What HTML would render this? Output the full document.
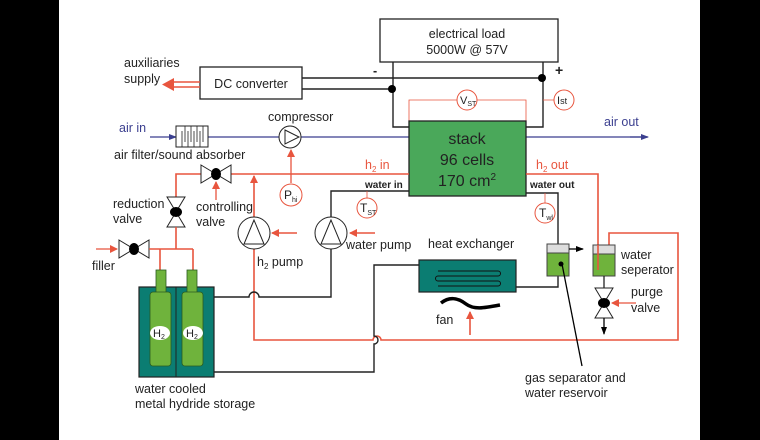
<!DOCTYPE html>
<html><head><meta charset="utf-8"><style>
html,body{margin:0;padding:0;background:#000;}
svg{display:block;}
text{font-family:"Liberation Sans",Arial,sans-serif;}
</style></head><body>
<svg width="760" height="440" viewBox="0 0 760 440" xmlns="http://www.w3.org/2000/svg">
<rect x="0" y="0" width="760" height="440" fill="#000"/>
<rect x="59" y="0" width="641" height="440" fill="#fff"/>
<defs>
<marker id="ar" markerWidth="8" markerHeight="8" refX="7" refY="4" orient="auto" markerUnits="userSpaceOnUse"><path d="M0,0 L8,4 L0,8 z" fill="#e8553e"/></marker>
<marker id="ab" markerWidth="8" markerHeight="8" refX="7" refY="4" orient="auto" markerUnits="userSpaceOnUse"><path d="M0,1 L8,4 L0,7 z" fill="#3b3f8f"/></marker>
<marker id="ak" markerWidth="8" markerHeight="8" refX="7" refY="4" orient="auto" markerUnits="userSpaceOnUse"><path d="M0,1 L8,4 L0,7 z" fill="#000"/></marker>
</defs>
<g font-size="12.5" fill="#222">
<!-- electrical load -->
<rect x="380" y="19" width="178" height="43" fill="#fff" stroke="#222" stroke-width="1.3"/>
<text x="467" y="38" text-anchor="middle">electrical load</text>
<text x="467" y="54" text-anchor="middle">5000W @ 57V</text>
<!-- DC converter -->
<rect x="200" y="67" width="102" height="32" fill="#fff" stroke="#222" stroke-width="1.3"/>
<text x="251" y="88" text-anchor="middle">DC converter</text>
<text x="124" y="67">auxiliaries</text>
<text x="124" y="83">supply</text>
<path d="M200,82 H172 M200,87 H172" stroke="#e8553e" stroke-width="1.6"/>
<path d="M174,78 L162,84.5 L174,91 z" fill="#e8553e"/>
<!-- electrical wiring -->
<path d="M302,78 H543 M302,89 H393 M393,62 V127 H409 M543,62 V127 H526" stroke="#222" stroke-width="1.4" fill="none"/>
<circle cx="542" cy="78" r="4" fill="#000"/><circle cx="392" cy="89" r="4" fill="#000"/>
<text x="373" y="75" font-weight="bold">-</text>
<text x="555" y="75" font-weight="bold" font-size="14">+</text>
<path d="M409,121 V100 H457 M477,100 H526 V121 M543,100 H554" stroke="#e8553e" stroke-width="0.8" fill="none"/>
<circle cx="467" cy="100" r="10" fill="#fff" stroke="#e8553e"/>
<text x="460" y="104" font-size="11">V<tspan font-size="7" dy="2">ST</tspan></text>
<circle cx="564" cy="100" r="10" fill="#fff" stroke="#e8553e"/>
<text x="557" y="104" font-size="11">I<tspan font-size="9">st</tspan></text>
<!-- air -->
<text x="119" y="132" fill="#3b3f8f">air in</text>
<path d="M150,137 H176" stroke="#3b3f8f" stroke-width="1.3" marker-end="url(#ab)"/>
<path d="M208,137 H279 M301,137 H409 M526,137 H647" stroke="#3b3f8f" stroke-width="1.3" fill="none"/>
<path d="M630,137 H648" stroke="#3b3f8f" stroke-width="1.3" marker-end="url(#ab)"/>
<text x="604" y="126" fill="#3b3f8f">air out</text>
<rect x="176" y="126" width="32" height="21" fill="#fff" stroke="#222"/>
<path d="M182,147 V131 M188,147 V131 M194,147 V131 M200,147 V131 M185,126 V142 M191,126 V142 M197,126 V142 M203,126 V142" stroke="#222" stroke-width="0.8"/>
<text x="114" y="159">air filter/sound absorber</text>
<circle cx="290" cy="137" r="11" fill="#fff" stroke="#222"/>
<path d="M285,130 L299,137 L285,144 z" fill="none" stroke="#222"/>
<text x="268" y="121">compressor</text>
<path d="M291,183 V150" stroke="#e8553e" stroke-width="1.3" marker-end="url(#ar)"/>
<circle cx="291" cy="195" r="11" fill="#fff" stroke="#e8553e"/>
<text x="284" y="199" font-size="12">P<tspan font-size="7" dy="3">hi</tspan></text>
<!-- stack -->
<rect x="409" y="121" width="117" height="75" fill="#4aa85a" stroke="#222" stroke-width="1.3"/>
<text x="467" y="144" text-anchor="middle" font-size="16">stack</text>
<text x="467" y="165" text-anchor="middle" font-size="16">96 cells</text>
<text x="467" y="186" text-anchor="middle" font-size="16">170 cm<tspan font-size="10" dy="-6">2</tspan></text>
<!-- h2 lines -->
<text x="365" y="169" fill="#e8553e">h<tspan font-size="8" dy="3">2</tspan><tspan dy="-3"> in</tspan></text>
<text x="536" y="169" fill="#e8553e">h<tspan font-size="8" dy="3">2</tspan><tspan dy="-3"> out</tspan></text>
<path d="M176,201 V174 H409 M526,174 H598 V270 M609,245 V233 H678 V340 H381 A4,4 0 0 0 373,340 H254 V249" stroke="#e8553e" stroke-width="1.6" fill="none"/>
<path d="M254,217 V176" stroke="#e8553e" stroke-width="1.6" marker-end="url(#ar)"/>
<path d="M216,200 V182" stroke="#e8553e" stroke-width="1.3" marker-end="url(#ar)"/>
<!-- controlling valve -->
<path d="M201,165 L231,183 L231,165 L201,183 z" fill="#fff" stroke="#222"/>
<ellipse cx="216" cy="174" rx="5" ry="6" fill="#000"/>
<text x="196" y="211">controlling</text><text x="196" y="226">valve</text>
<!-- reduction valve -->
<path d="M167,197 L185,227 L167,227 L185,197 z" fill="#fff" stroke="#222"/>
<ellipse cx="176" cy="212" rx="6" ry="5" fill="#000"/>
<text x="113" y="208">reduction</text><text x="113" y="223">valve</text>
<!-- filler -->
<path d="M96,249 H117" stroke="#e8553e" stroke-width="1.3" marker-end="url(#ar)"/>
<path d="M119,240 L149,258 L149,240 L119,258 z" fill="#fff" stroke="#222"/>
<ellipse cx="134" cy="249" rx="5" ry="6" fill="#000"/>
<text x="92" y="270">filler</text>
<path d="M149,249 H193 M176,249 V227 M160,249 V272 M193,249 V272" stroke="#e8553e" stroke-width="1.6" fill="none"/>
<!-- storage -->
<rect x="139" y="287" width="75" height="90" fill="#0b7d72" stroke="#222" stroke-width="1.2"/>
<path d="M176,287 V377" stroke="#222"/>
<rect x="156" y="270" width="10" height="24" fill="#6fb33c" stroke="#2a5a20" stroke-width="0.8"/>
<rect x="150" y="292" width="21" height="74" rx="3" fill="#6fb33c" stroke="#2a5a20" stroke-width="0.8"/>
<rect x="187" y="270" width="10" height="24" fill="#6fb33c" stroke="#2a5a20" stroke-width="0.8"/>
<rect x="182" y="292" width="21" height="74" rx="3" fill="#6fb33c" stroke="#2a5a20" stroke-width="0.8"/>
<ellipse cx="160" cy="333" rx="10" ry="7" fill="#fff"/><ellipse cx="193" cy="333" rx="10" ry="7" fill="#fff"/>
<text x="153" y="337" font-size="11">H<tspan font-size="7" dy="2">2</tspan></text>
<text x="186" y="337" font-size="11">H<tspan font-size="7" dy="2">2</tspan></text>
<text x="135" y="393">water cooled</text>
<text x="135" y="408">metal hydride storage</text>
<!-- pumps -->
<circle cx="254" cy="233" r="16" fill="#fff" stroke="#222"/>
<path d="M254,220 L244,244 L264,244 z" fill="none" stroke="#222"/>
<path d="M297,233 H272" stroke="#e8553e" stroke-width="1.6" marker-end="url(#ar)"/>
<text x="257" y="266">h<tspan font-size="8" dy="3">2</tspan><tspan dy="-3"> pump</tspan></text>
<circle cx="331" cy="233" r="16" fill="#fff" stroke="#222"/>
<path d="M331,220 L321,244 L341,244 z" fill="none" stroke="#222"/>
<path d="M375,233 H350" stroke="#e8553e" stroke-width="1.6" marker-end="url(#ar)"/>
<text x="346" y="249">water pump</text>
<!-- water loops -->
<path d="M214,297 H249 A5,5 0 0 1 259,297 H331 V249 M331,217 V191 H409 M526,193 H558 V287 H516 M214,372 H374 V344 A4,4 0 0 0 374,336 V265 H419" stroke="#222" stroke-width="1.4" fill="none"/>
<text x="365" y="188" font-size="10" font-weight="bold">water in</text>
<text x="530" y="188" font-size="10" font-weight="bold">water out</text>
<path d="M367,191 V198 M545,193 V203" stroke="#e8553e" stroke-width="0.8"/>
<circle cx="367" cy="208" r="10" fill="#fff" stroke="#e8553e"/>
<text x="360" y="212" font-size="12">T<tspan font-size="7" dy="3">ST</tspan></text>
<circle cx="545" cy="213" r="10" fill="#fff" stroke="#e8553e"/>
<text x="539" y="217" font-size="12">T<tspan font-size="7" dy="3">wl</tspan></text>
<!-- heat exchanger -->
<rect x="419" y="260" width="97" height="32" fill="#0b7d72" stroke="#222" stroke-width="1.2"/>
<path d="M438,271 H498 A2.5,2.5 0 0 1 498,276 H438 A2.5,2.5 0 0 0 438,281 H498 A2.5,2.5 0 0 1 498,286 H438" stroke="#111" stroke-width="1" fill="none"/>
<text x="428" y="248">heat exchanger</text>
<path d="M441,303 C450,296 458,298 466,304 C474,310 484,308 500,305" stroke="#000" stroke-width="3.5" fill="none"/>
<text x="436" y="324">fan</text>
<path d="M470,335 V312" stroke="#e8553e" stroke-width="1.6" marker-end="url(#ar)"/>
<!-- gas separator -->
<rect x="547" y="244" width="22" height="32" fill="#6fb33c" stroke="#444"/>
<rect x="547" y="244" width="22" height="9" fill="#ddd" stroke="#444"/>
<circle cx="561" cy="264" r="2.5" fill="#000"/>
<path d="M569,249 H583" stroke="#000" stroke-width="1.3" marker-end="url(#ak)"/>
<path d="M562,264 L582,366" stroke="#000" stroke-width="1.3"/>
<text x="525" y="382">gas separator and</text>
<text x="525" y="397">water reservoir</text>
<!-- water separator -->
<rect x="593" y="245" width="22" height="31" fill="#6fb33c" stroke="#444"/>
<rect x="593" y="245" width="22" height="9" fill="#ddd" stroke="#444"/>
<path d="M598,245 V270" stroke="#e8553e" stroke-width="1.6"/>
<text x="621" y="259">water</text><text x="621" y="274">seperator</text>
<path d="M604,276 V288" stroke="#222" stroke-width="1.3"/>
<path d="M595,288 L613,318 L595,318 L613,288 z" fill="#fff" stroke="#222"/>
<ellipse cx="604" cy="303" rx="6" ry="5" fill="#000"/>
<path d="M604,318 V334" stroke="#000" stroke-width="1.3" marker-end="url(#ak)"/>
<path d="M636,303 H612" stroke="#e8553e" stroke-width="1.3" marker-end="url(#ar)"/>
<text x="631" y="296">purge</text><text x="631" y="312">valve</text>
</g>
</svg>
</body></html>
